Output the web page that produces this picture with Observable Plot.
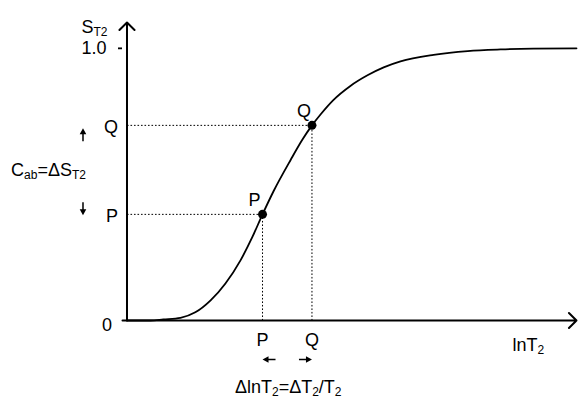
<!DOCTYPE html>
<html>
<head>
<meta charset="utf-8">
<script src="https://cdn.jsdelivr.net/npm/d3@7"></script>
<script src="https://cdn.jsdelivr.net/npm/@observablehq/plot@0.6"></script>
<style>
  html, body { margin: 0; padding: 0; background: #fff; }
</style>
</head>
<body>
<div id="chart"></div>
<script>
// ---- data ----
const curveX = [0, 5.2, 8.1, 11.9, 15.2, 18.6, 21.9, 25.25, 27.9, 30.15, 32.6, 36.4, 39.0, 41.15, 43.05, 45.9, 49.7, 53.5, 57.1, 60.85, 68.2, 75.8, 83.1, 90.4, 100];
const curveS = [0, 0, 0.004, 0.01, 0.03, 0.074, 0.136, 0.221, 0.307, 0.39, 0.475, 0.59, 0.664, 0.717, 0.757, 0.81, 0.862, 0.901, 0.93, 0.952, 0.976, 0.99, 0.996, 0.999, 1.0];
const pointNames = ["P", "Q"];
const pointX = [30.15, 41.15];
const pointS = [0.39, 0.717];
const xDomain = [-1, 100];
const yDomain = [0, 1.095];
const yTickValues = [1];
const xLabel = "lnT_{2}";
const yLabel = "S_{T2}";
const cabLabel = "C_{ab}=ΔS_{T2}";
const deltaLabel = "ΔlnT_{2}=ΔT_{2}/T_{2}";

const curve = curveX.map((x, i) => ({x, s: curveS[i]}));
const pts = pointNames.map((name, i) => ({name, x: pointX[i], s: pointS[i]}));
const P = pts[0], Q = pts[1];

const font = "'Liberation Sans', Arial, Helvetica, sans-serif";

// small arrow symbol: tip at origin, pointing toward +x
const arrowSymbol = {
  draw(ctx) {
    ctx.moveTo(0, 0);
    ctx.lineTo(-6, -3.3);
    ctx.lineTo(-6, -0.75);
    ctx.lineTo(-13, -0.75);
    ctx.lineTo(-13, 0.75);
    ctx.lineTo(-6, 0.75);
    ctx.lineTo(-6, 3.3);
    ctx.closePath();
  }
};

const chart = Plot.plot({
  width: 583,
  height: 402,
  marginLeft: 122,
  marginRight: 7,
  marginTop: 22,
  marginBottom: 82,
  x: {domain: xDomain, axis: null},
  y: {domain: yDomain},
  style: {fontFamily: font, fontSize: "18px", color: "black", background: "white", overflow: "visible"},
  marks: [
    // y tick for 1.0
    Plot.axisY({ticks: yTickValues, tickSize: 4, tickPadding: 12, tickFormat: ".1f", fontSize: 18, strokeWidth: 1.8, label: null}),
    // dotted guide lines
    Plot.link(pts, {x1: 0, x2: "x", y1: "s", y2: "s", stroke: "black", strokeWidth: 1, strokeDasharray: "1.6,1.9"}),
    Plot.link(pts, {x1: "x", x2: "x", y1: 0, y2: "s", stroke: "black", strokeWidth: 1, strokeDasharray: "1.6,1.9"}),
    // axes with arrowheads
    Plot.arrow([0], {x1: xDomain[0], x2: xDomain[1], y1: 0, y2: 0, stroke: "black", strokeWidth: 2, headLength: 8, headAngle: 90}),
    Plot.arrow([0], {x1: 0, x2: 0, y1: 0, y2: yDomain[1], stroke: "black", strokeWidth: 2, headLength: 8, headAngle: 90}),
    // curve
    Plot.line(curve, {x: "x", y: "s", curve: "monotone-x", stroke: "black", strokeWidth: 1.8}),
    // points
    Plot.dot(pts, {x: "x", y: "s", r: 4.5, fill: "black"}),
    Plot.text(pts, {x: "x", y: "s", text: "name", dx: -8, dy: -14, fontSize: 18}),
    // y-axis labels for P, Q, and 0
    Plot.text(pts, {x: 0, y: "s", text: "name", textAnchor: "end", dx: -9, dy: 2, fontSize: 18}),
    Plot.text(["0"], {x: 0, y: 0, text: d => d, textAnchor: "end", dx: -15, dy: 5, fontSize: 18}),
    // x-axis labels for P, Q
    Plot.text(pts, {x: "x", y: 0, text: "name", dy: 20, fontSize: 18}),
    // small arrows pointing at P and Q
    Plot.dot([P], {x: "x", y: 0, symbol: arrowSymbol, rotate: 180, fill: "black", stroke: "none", dy: 39}),
    Plot.dot([Q], {x: "x", y: 0, symbol: arrowSymbol, rotate: 0, fill: "black", stroke: "none", dy: 39}),
    Plot.dot([Q], {x: 0, y: "s", symbol: arrowSymbol, rotate: -90, fill: "black", stroke: "none", dx: -44, dy: 3}),
    Plot.dot([P], {x: 0, y: "s", symbol: arrowSymbol, rotate: 90, fill: "black", stroke: "none", dx: -44, dy: 1}),
    // labels
    Plot.text([yLabel], {frameAnchor: "top-left", text: d => d, textAnchor: "start", lineAnchor: "middle", dx: -41, dy: 5, fontSize: 18}),
    Plot.text([xLabel], {frameAnchor: "bottom-right", text: d => d, textAnchor: "start", lineAnchor: "middle", dx: -64, dy: 25, fontSize: 18}),
    Plot.text([cabLabel], {x: 0, y: (P.s + Q.s) / 2, text: d => d, textAnchor: "end", dx: -41, dy: 0, fontSize: 18}),
    Plot.text([deltaLabel], {x: (P.x + Q.x) / 2, y: 0, text: d => d, dx: 1, dy: 67, fontSize: 18})
  ]
});

// turn _{...} into subscripts
const NS = "http://www.w3.org/2000/svg";
chart.querySelectorAll("text").forEach(t => {
  const s = t.textContent;
  if (!s.includes("_{")) return;
  while (t.firstChild) t.removeChild(t.firstChild);
  const parts = s.split(/(_\{[^}]*\})/).filter(p => p);
  let shifted = false;
  parts.forEach(p => {
    const ts = document.createElementNS(NS, "tspan");
    if (p.startsWith("_{")) {
      ts.textContent = p.slice(2, -1);
      ts.setAttribute("font-size", "12");
      ts.setAttribute("dy", "3");
      shifted = true;
    } else {
      ts.textContent = p;
      if (shifted) { ts.setAttribute("dy", "-3"); shifted = false; }
    }
    t.appendChild(ts);
  });
});

document.getElementById("chart").appendChild(chart);
</script>
</body>
</html>
